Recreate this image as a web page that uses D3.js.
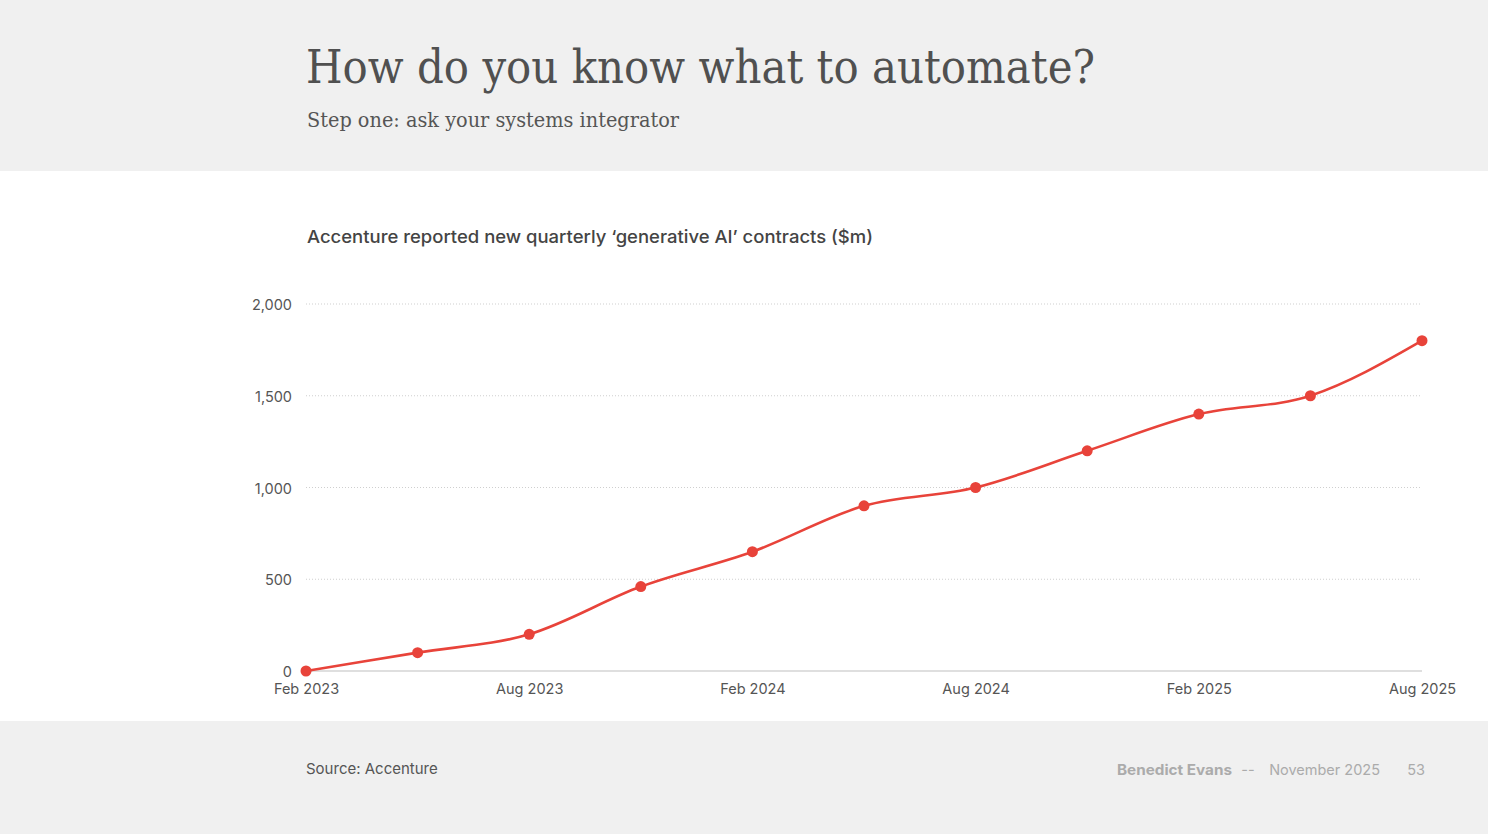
<!DOCTYPE html>
<html><head><meta charset="utf-8">
<script src="https://cdn.jsdelivr.net/npm/d3@7"></script>
<style>
html,body{margin:0;padding:0;background:#fff;}
svg{display:block;}
</style></head>
<body>
<svg id="c" width="1488" height="834"></svg>
<script>
const quarters = ["Feb 2023","May 2023","Aug 2023","Nov 2023","Feb 2024","May 2024","Aug 2024","Nov 2024","Feb 2025","May 2025","Aug 2025"];
const values = [0, 100, 200, 460, 650, 900, 1000, 1200, 1400, 1500, 1800];
const xTickLabels = ["Feb 2023","Aug 2023","Feb 2024","Aug 2024","Feb 2025","Aug 2025"];
const yTicks = [0, 500, 1000, 1500, 2000];
const title = "How do you know what to automate?";
const subtitle = "Step one: ask your systems integrator";
const chartTitle = "Accenture reported new quarterly \u2018generative AI\u2019 contracts ($m)";
const source = "Source: Accenture";

const svg = d3.select("#c");
const W = 1488, H = 834;
const sans = "Inter, 'Noto Sans', sans-serif";
const serif = "'DejaVu Serif', 'Liberation Serif', serif";

svg.append("rect").attr("width", W).attr("height", H).attr("fill", "#f0f0f0");
svg.append("rect").attr("x", 0).attr("y", 171).attr("width", W).attr("height", 550).attr("fill", "#ffffff");

svg.append("text").attr("x", 306).attr("y", 83).attr("font-family", serif)
  .attr("font-size", 46).attr("fill", "#505050").text(title)
  .attr("textLength", 789).attr("lengthAdjust", "spacingAndGlyphs");
svg.append("text").attr("x", 307).attr("y", 127).attr("font-family", serif)
  .attr("font-size", 20).attr("fill", "#555").text(subtitle)
  .attr("textLength", 372).attr("lengthAdjust", "spacingAndGlyphs");

svg.append("text").attr("x", 307).attr("y", 243).attr("font-family", sans)
  .attr("font-size", 17.5).attr("font-weight", 500).attr("fill", "#444").text(chartTitle)
  .attr("textLength", 566).attr("lengthAdjust", "spacingAndGlyphs");

const x = d3.scalePoint().domain(quarters).range([306, 1422]);
const y = d3.scaleLinear().domain([0, 2000]).range([671, 304]);

// gridlines
const g = svg.append("g");
g.selectAll("line.grid").data(yTicks.filter(d => d > 0)).join("line")
  .attr("x1", 306).attr("x2", 1422)
  .attr("y1", d => y(d)).attr("y2", d => y(d))
  .attr("stroke", "#cfcfcf").attr("stroke-width", 1).attr("stroke-dasharray", "1,2");
g.append("line").attr("x1", 306).attr("x2", 1422).attr("y1", y(0)).attr("y2", y(0))
  .attr("stroke", "#d4d4d4").attr("stroke-width", 1.5);

// y axis labels
const yAxis = d3.axisLeft(y).tickValues(yTicks).tickSize(0).tickPadding(0)
  .tickFormat(d3.format(","));
const ya = svg.append("g").attr("transform", "translate(292,1)").call(yAxis);
ya.select(".domain").remove();
ya.selectAll("text").attr("font-family", sans).attr("font-size", 14.5).attr("fill", "#555").attr("dy", "0.32em");

// x axis labels
const xAxis = d3.axisBottom(x).tickValues(xTickLabels).tickSize(0).tickPadding(0);
const xa = svg.append("g").attr("transform", "translate(0,684)").call(xAxis);
xa.select(".domain").remove();
xa.selectAll("text").attr("font-family", sans).attr("font-size", 14.5).attr("fill", "#555").attr("dy", "0.71em");

// line
const data = quarters.map((q, i) => ({q, v: values[i]}));
const line = d3.line().x(d => x(d.q)).y(d => y(d.v)).curve(d3.curveMonotoneX);
svg.append("path").datum(data).attr("d", line).attr("fill", "none")
  .attr("stroke", "#e8433a").attr("stroke-width", 2.6);
svg.selectAll("circle.pt").data(data).join("circle")
  .attr("cx", d => x(d.q)).attr("cy", d => y(d.v)).attr("r", 5.5).attr("fill", "#e8433a");

// footer
svg.append("text").attr("x", 306).attr("y", 774).attr("font-family", sans)
  .attr("font-size", 15).attr("fill", "#555").text(source);
svg.append("text").attr("x", 1117).attr("y", 775).attr("font-family", sans)
  .attr("font-size", 14.5).attr("font-weight", 700).attr("fill", "#ababab").text("Benedict Evans")
  .attr("textLength", 115).attr("lengthAdjust", "spacingAndGlyphs");
svg.append("text").attr("x", 1248).attr("y", 775).attr("text-anchor", "middle").attr("font-family", sans)
  .attr("font-size", 14.5).attr("fill", "#ababab").text("--");
svg.append("text").attr("x", 1380).attr("y", 775).attr("text-anchor", "end").attr("font-family", sans)
  .attr("font-size", 14.5).attr("fill", "#ababab").text("November 2025");
svg.append("text").attr("x", 1425).attr("y", 775).attr("text-anchor", "end")
  .attr("font-family", sans).attr("font-size", 14.5).attr("fill", "#ababab").text("53");
</script>
</body></html>
